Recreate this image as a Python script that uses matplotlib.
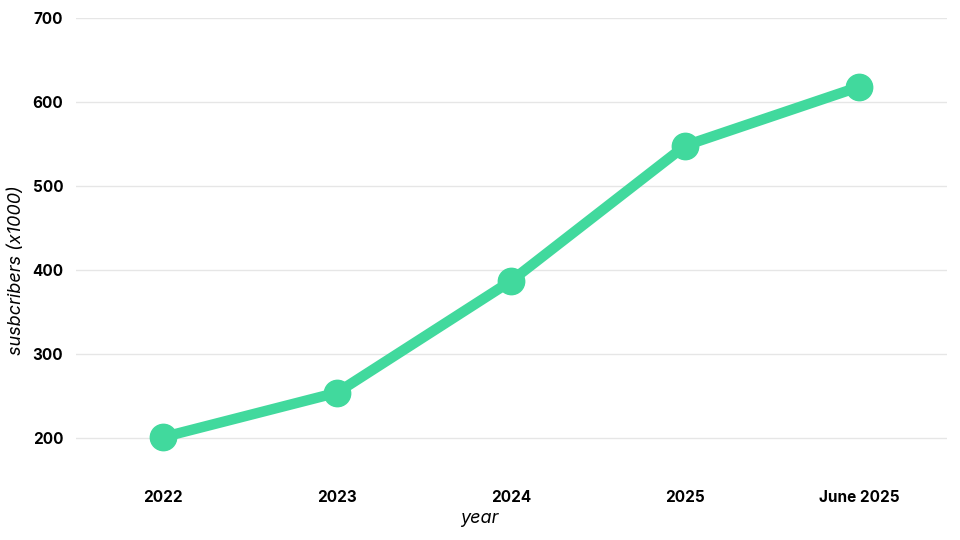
import matplotlib
matplotlib.use("Agg")
import matplotlib.pyplot as plt

categories = ["2022", "2023", "2024", "2025", "June 2025"]
subscribers = [201, 254, 387, 548, 618]
yticks = [200, 300, 400, 500, 600, 700]

plt.rcParams['font.family'] = ['Inter', 'DejaVu Sans']

fig = plt.figure(figsize=(9.6, 5.4), dpi=100)
ax = fig.add_axes([0.079, 0.111, 0.907, 0.856])

x = range(len(categories))
ax.plot(x, subscribers, color='#41d99d', linewidth=7.5, marker='o',
        markersize=19, solid_capstyle='round', zorder=3)

ax.set_xlim(-0.5, 4.5)
ax.set_ylim(150, 700)
ax.set_yticks(yticks)
ax.set_xticks(list(x))
ax.set_xticklabels(categories)
ax.grid(axis='y', color='#e6e6e6', linewidth=1)
ax.set_axisbelow(True)
for s in ax.spines.values():
    s.set_visible(False)
ax.tick_params(length=0, labelsize=11)
ax.tick_params(axis='x', pad=7)
ax.tick_params(axis='y', pad=9)
for lab in ax.get_xticklabels() + ax.get_yticklabels():
    lab.set_fontweight('bold')

ax.set_xlabel('year', fontsize=13, style='italic', labelpad=4)
ax.set_ylabel('susbcribers (x1000)', fontsize=13, style='italic', labelpad=5)
# labels sit at the figure centre, not the axes centre
ax.xaxis.label.set_x(0.463)
ax.yaxis.label.set_y(0.455)

fig.savefig('out.png', dpi=100)
